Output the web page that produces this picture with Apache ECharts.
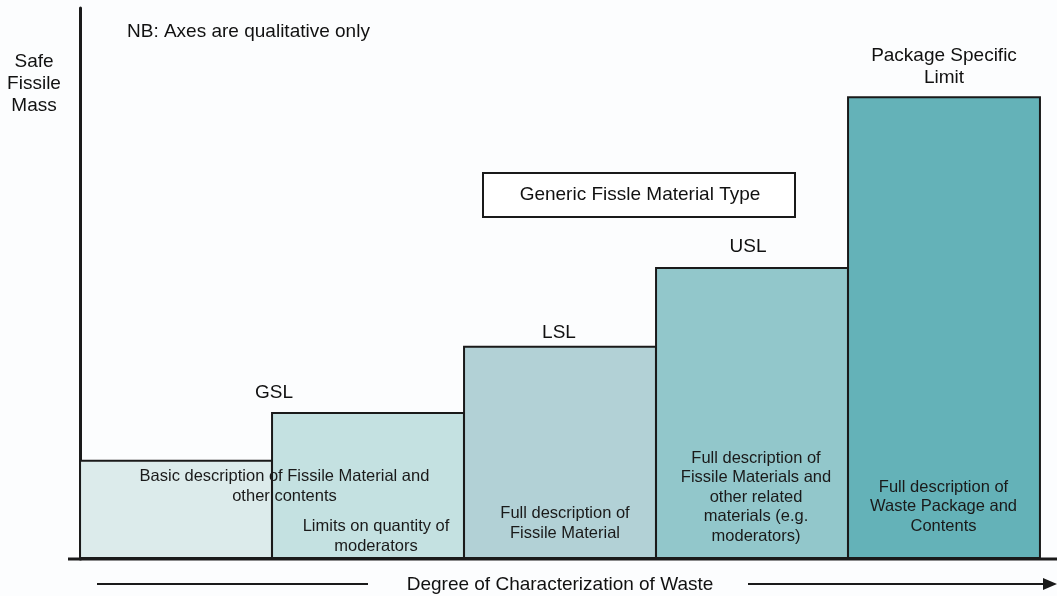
<!DOCTYPE html>
<html>
<head>
<meta charset="utf-8">
<script src="https://cdn.jsdelivr.net/npm/echarts@6/dist/echarts.min.js"></script>
<style>
  html, body { margin: 0; padding: 0; background: #fcfdfe; }
  #chart { width: 1057px; height: 596px; }
</style>
</head>
<body>
<div id="chart"></div>
<script>
// qualitative levels (0-100 scale)
const stages = ["basic", "gsl", "lsl", "usl", "psl"];
const safeMass = [18.0, 26.7, 38.7, 53.0, 84.0];
const limitNames = ["", "GSL", "LSL", "USL", "Package Specific\nLimit"];
const descriptions = [
  "Basic description of Fissile Material and\nother contents",
  "Limits on quantity of\nmoderators",
  "Full description of\nFissile Material",
  "Full description of\nFissile Materials and\nother related\nmaterials (e.g.\nmoderators)",
  "Full description of\nWaste Package and\nContents"
];
const barColors = ["#dcebeb", "#c4e1e1", "#b2d1d6", "#92c7cb", "#64b2b8"];

// label nudges so the text sits where the original has it
const nameOffsets = [[0, 0], [-94, -3], [-1, 3], [-4, -4], [0, -2]];
const descOffsets = [[108, -48], [8, 2], [5, -11], [4, -8], [0, -18]];

const font = "Liberation Sans, Arial, sans-serif";

let chart = echarts.init(document.getElementById("chart"));

chart.setOption({
  backgroundColor: "#fcfdfe",
  animation: false,
  title: {
    text: "NB: Axes are qualitative only",
    left: 122,
    top: 17,
    textStyle: { fontFamily: font, fontSize: 19, fontWeight: "normal", color: "#111" }
  },
  grid: { left: 80, right: 17, top: 8, bottom: 37, containLabel: false, outerBoundsMode: "none" },
  xAxis: {
    type: "category",
    data: stages,
    axisLine: { show: false },
    axisTick: { show: false },
    axisLabel: { show: false },
    name: "Degree of Characterization of Waste",
    nameLocation: "middle",
    nameGap: 16,
    nameTextStyle: { fontFamily: font, fontSize: 19, color: "#111" }
  },
  yAxis: {
    type: "value",
    min: 0,
    max: 100,
    axisLine: { show: true, lineStyle: { color: "#1a1a1a", width: 3 } },
    axisTick: { show: false },
    axisLabel: { show: false },
    splitLine: { show: false }
  },
  series: [
    {
      type: "bar",
      barWidth: "101%",
      z: 2,
      data: safeMass.map((v, i) => ({
        value: v,
        itemStyle: { color: barColors[i] },
        label: { offset: nameOffsets[i] }
      })),
      itemStyle: { borderColor: "#1a1a1a", borderWidth: 2 },
      label: {
        show: true,
        position: "top",
        formatter: p => limitNames[p.dataIndex],
        fontFamily: font,
        fontSize: 19,
        lineHeight: 22,
        color: "#111",
        align: "center"
      }
    },
    {
      // invisible twin series that carries the descriptions
      type: "bar",
      barGap: "-100%",
      barWidth: "101%",
      z: 3,
      silent: true,
      data: safeMass.map((v, i) => ({ value: v, label: { offset: descOffsets[i] } })),
      itemStyle: { color: "rgba(0,0,0,0)" },
      label: {
        show: true,
        position: "insideBottom",
        formatter: p => descriptions[p.dataIndex],
        fontFamily: font,
        fontSize: 16.5,
        lineHeight: 19.5,
        color: "#1a1a1a",
        align: "center"
      }
    }
  ],
  graphic: [
    // baseline running under the bars
    { type: "line", shape: { x1: 68, y1: 559, x2: 1057, y2: 559 }, style: { stroke: "#1a1a1a", lineWidth: 3 } },
    // y axis caption
    {
      type: "text", x: 34, y: 51,
      style: { text: "Safe\nFissile\nMass", font: "19px " + font, fill: "#111", textAlign: "center", textVerticalAlign: "top", lineHeight: 22 }
    },
    // boxed note
    { type: "rect", shape: { x: 483, y: 173, width: 312, height: 44 }, style: { fill: "#fff", stroke: "#1a1a1a", lineWidth: 2 } },
    {
      type: "text", x: 640, y: 195,
      style: { text: "Generic Fissle Material Type", font: "19px " + font, fill: "#111", textAlign: "center", textVerticalAlign: "middle" }
    },
    // arrow along the bottom
    { type: "line", shape: { x1: 97, y1: 584, x2: 368, y2: 584 }, style: { stroke: "#1a1a1a", lineWidth: 2 } },
    { type: "line", shape: { x1: 748, y1: 584, x2: 1045, y2: 584 }, style: { stroke: "#1a1a1a", lineWidth: 2 } },
    { type: "polygon", shape: { points: [[1043, 578], [1057, 584], [1043, 590]] }, style: { fill: "#1a1a1a" } }
  ]
});
</script>
</body>
</html>
